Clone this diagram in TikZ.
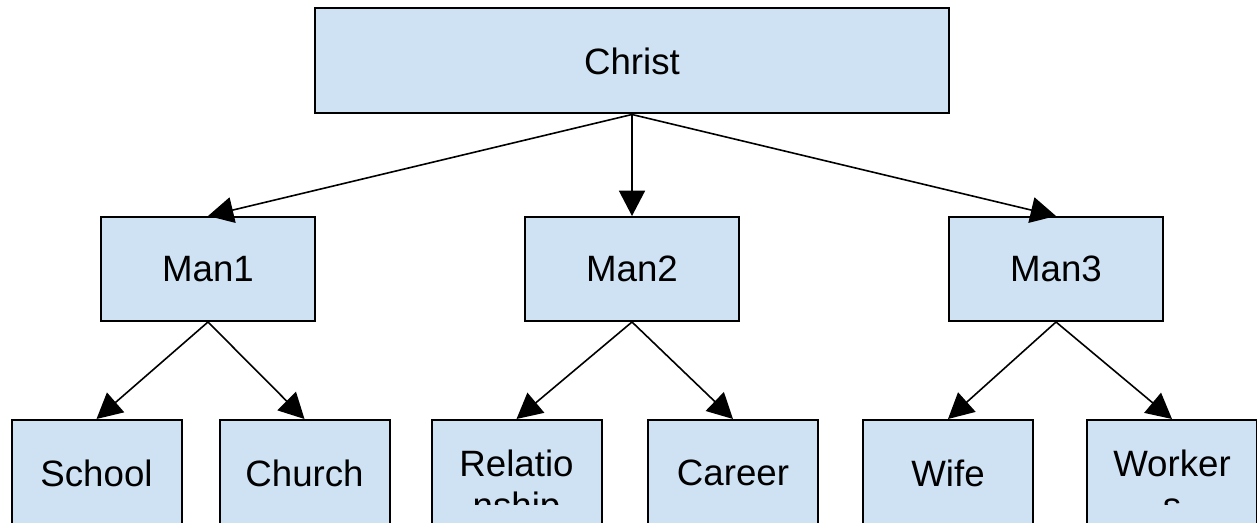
\documentclass[tikz,border=0pt]{standalone}
\usepackage{fontspec}
\setmainfont{Liberation Sans}
\usetikzlibrary{arrows.meta}
\definecolor{boxblue}{HTML}{CFE2F3}

\begin{document}
\begin{tikzpicture}[x=0.75pt,y=-0.75pt,
  font=\fontsize{27.5}{31.5}\selectfont,
  box/.style={draw,fill=boxblue,line width=1.5pt,inner sep=0pt},
  topbox/.style={box,minimum width=475.5pt,minimum height=78.75pt},
  manbox/.style={box,minimum width=160.5pt,minimum height=78pt},
  leafbox/.style={box,minimum width=127.5pt,minimum height=97.5pt},
  leaftext/.style={anchor=north,inner sep=0pt,align=center},
  link/.style={-{Triangle[length=19pt,width=19.5pt]},line width=1.2pt}]

  \useasboundingbox (0,0) rectangle (1257,523);

%draw boxes
  \node[topbox] (christ) at (632,61) {Christ};
  \node[manbox] (man1) at (208,269) {Man1};
  \node[manbox] (man2) at (632,269) {Man2};
  \node[manbox] (man3) at (1056,269) {Man3};

  \node[leafbox] (school) at (96.5,485) {};
  \node[leafbox] (church) at (304.5,485) {};
  \node[leafbox] (relat) at (516.5,485) {};
  \node[leafbox] (career) at (733,485) {};
  \node[leafbox] (wife) at (948,485) {};
  \node[leafbox] (workers) at (1172,485) {};

%texts of the lower boxes, cut off at the bottom
  \begin{scope}
    \clip (0,420) rectangle (1257,505);
    \node[leaftext] (schooltext) at (96.5,460) {School};
    \node[leaftext] (churchtext) at (304.5,460) {Church};
    \node[leaftext] (relattext) at (516.5,450) {Relatio\\nship};
    \node[leaftext] (careertext) at (733,460) {Career};
    \node[leaftext] (wifetext) at (948,460) {Wife};
    \node[leaftext] (workerstext) at (1172,450) {Worker\\s};
  \end{scope}

%draw arrows
  \foreach \m in {man1,man2,man3}
    \draw[link] (christ.south) -- (\m.north);
  \foreach \m/\a/\b in {man1/school/church, man2/relat/career, man3/wife/workers} {
    \draw[link] (\m.south) -- (\a.north);
    \draw[link] (\m.south) -- (\b.north); }

\end{tikzpicture}
\end{document}
